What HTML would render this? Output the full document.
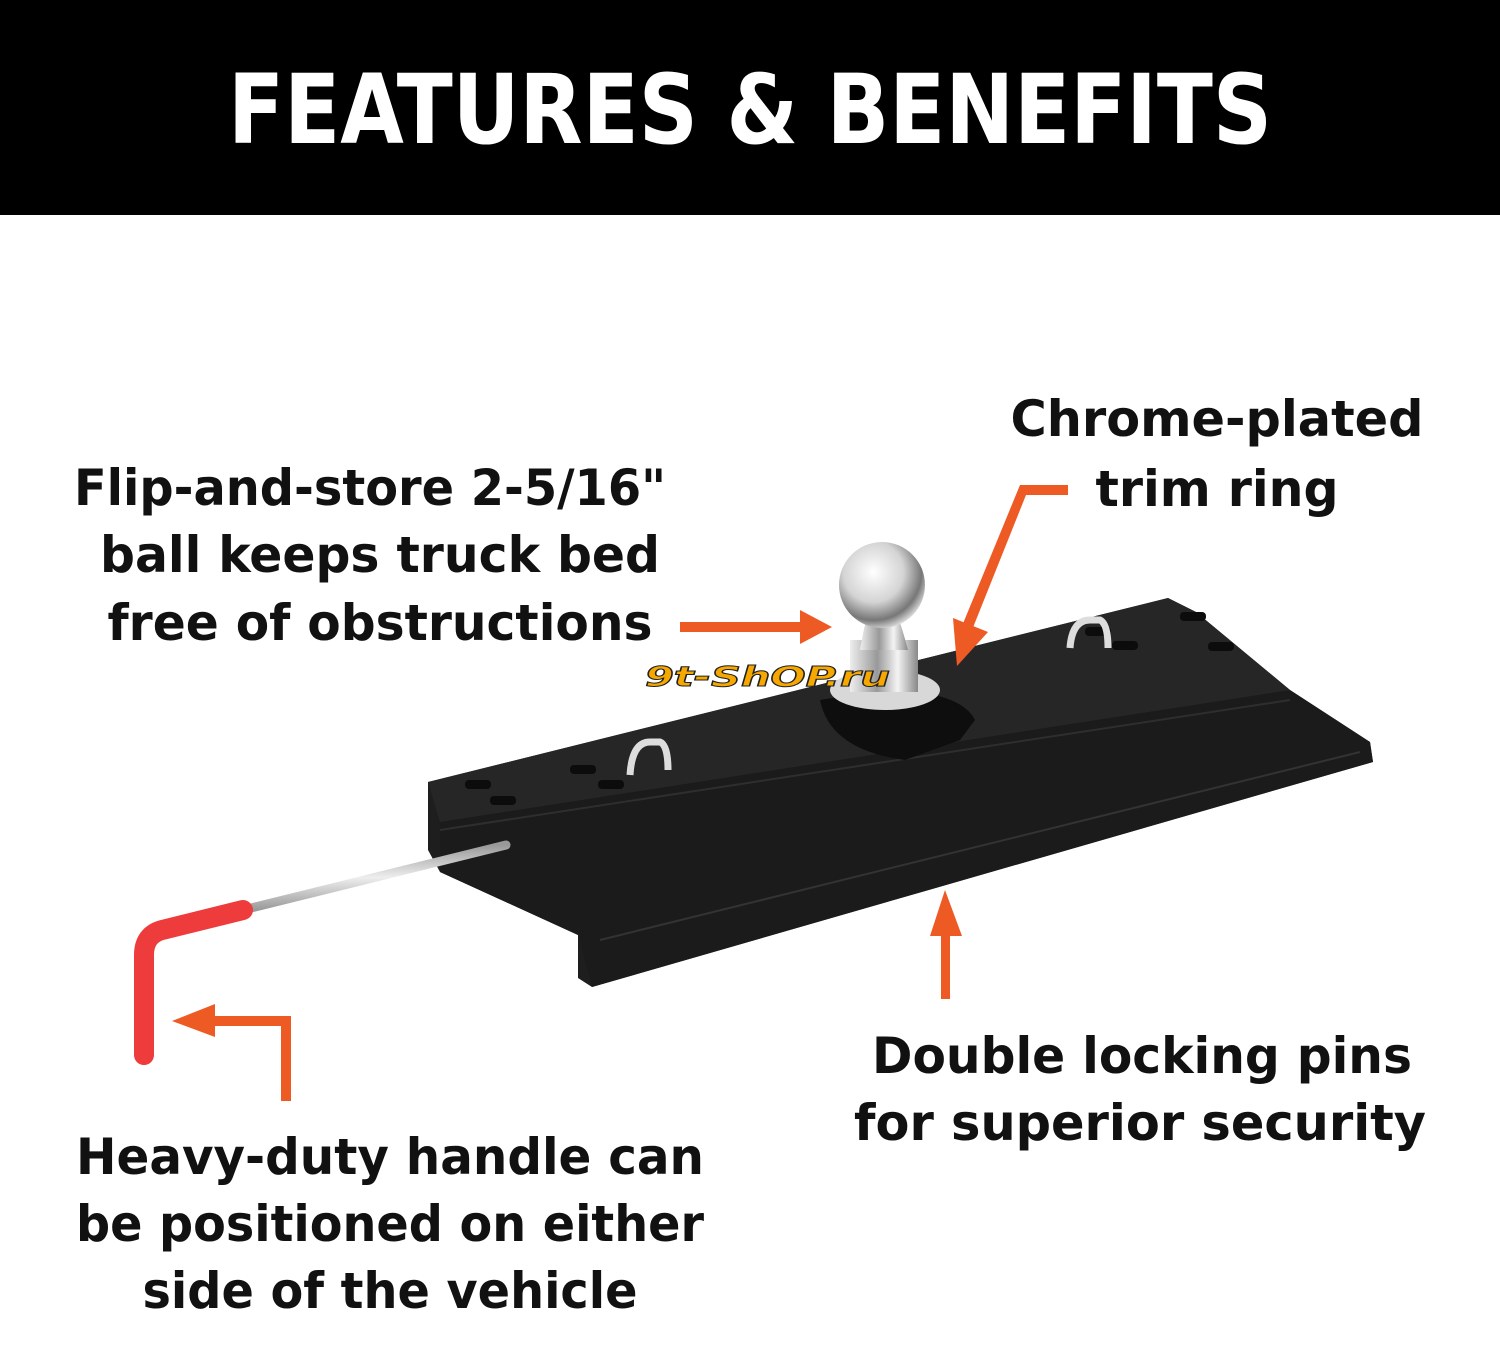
<!DOCTYPE html>
<html><head><meta charset="utf-8"><style>
html,body{margin:0;padding:0;background:#fff;}
svg{display:block;}
text{font-family:"DejaVu Sans Condensed","Liberation Sans",sans-serif;font-weight:bold;fill:#111;}
</style></head><body>
<svg width="1500" height="1350" viewBox="0 0 1500 1350" xmlns="http://www.w3.org/2000/svg">
<defs>
<radialGradient id="chrome" cx="40%" cy="35%" r="70%">
<stop offset="0" stop-color="#ffffff"/><stop offset="0.5" stop-color="#d4d4d4"/><stop offset="0.8" stop-color="#777"/><stop offset="1" stop-color="#eee"/>
</radialGradient>
<linearGradient id="neck" x1="0" x2="1"><stop offset="0" stop-color="#eee"/><stop offset="0.4" stop-color="#999"/><stop offset="0.7" stop-color="#f4f4f4"/><stop offset="1" stop-color="#888"/></linearGradient>
<linearGradient id="rod" x1="0" y1="0" x2="0" y2="1"><stop offset="0" stop-color="#999"/><stop offset="0.5" stop-color="#eee"/><stop offset="1" stop-color="#999"/></linearGradient>
</defs>
<rect x="0" y="0" width="1500" height="215" fill="#000"/>
<text x="750" y="143" text-anchor="middle" font-size="96" textLength="1044" lengthAdjust="spacingAndGlyphs" style="fill:#fff">FEATURES &amp; BENEFITS</text>

<!-- plate -->
<polygon points="428,782 1168,598 1196,612 1290,690 1370,742 1373,762 592,987 578,978 578,935 440,872 428,850" fill="#1e1e1e"/>
<polygon points="428,782 1168,598 1196,612 1290,690 578,880 440,822" fill="#262626"/>
<polygon points="440,822 1290,690 1370,742 1373,762 592,987 578,935 440,872" fill="#1b1b1b"/>
<line x1="600" y1="940" x2="1360" y2="752" stroke="#333" stroke-width="2"/>
<line x1="440" y1="830" x2="1290" y2="700" stroke="#2e2e2e" stroke-width="2"/>
<!-- slots -->
<g fill="#0c0c0c">
<rect x="465" y="780" width="26" height="9" rx="4"/><rect x="490" y="796" width="26" height="9" rx="4"/>
<rect x="570" y="765" width="26" height="9" rx="4"/><rect x="598" y="780" width="26" height="9" rx="4"/>
<rect x="1085" y="627" width="26" height="9" rx="4"/><rect x="1112" y="641" width="26" height="9" rx="4"/>
<rect x="1180" y="612" width="26" height="9" rx="4"/><rect x="1208" y="642" width="26" height="9" rx="4"/>
</g>
<path d="M630,775 Q632,742 650,742 L660,742 Q668,745 668,770" fill="none" stroke="#ddd" stroke-width="7"/>
<path d="M1070,648 Q1072,620 1090,620 L1100,620 Q1108,624 1108,648" fill="none" stroke="#ddd" stroke-width="7"/>
<!-- ball base -->
<path d="M820,700 Q830,750 905,760 L960,740 L975,720 Q960,690 880,690 Z" fill="#0e0e0e"/>
<ellipse cx="885" cy="690" rx="55" ry="20" fill="#d8d8d8"/>
<rect x="850" y="640" width="68" height="52" fill="url(#neck)"/>
<path d="M860,650 Q865,620 870,610 L895,610 Q900,620 908,650 Z" fill="url(#neck)"/>
<circle cx="882" cy="585" r="43" fill="url(#chrome)"/>
<!-- watermark -->
<text x="645" y="686" font-size="28" style="fill:#f6a800;font-style:italic;stroke:#222;stroke-width:1" textLength="245" lengthAdjust="spacingAndGlyphs">9t-ShOP.ru</text>
<!-- handle -->
<line x1="506" y1="845" x2="243" y2="910" stroke="url(#rod)" stroke-width="9" stroke-linecap="round"/>
<path d="M243,910 L162,930 Q144,935 144,955 L144,1055" fill="none" stroke="#ee3b3b" stroke-width="20" stroke-linecap="round"/>

<!-- arrows -->
<g fill="#ee5a24">
<rect x="680" y="622" width="125" height="10"/><polygon points="800,610 832,627 800,644"/>
<rect x="1020" y="485" width="48" height="10"/>
<polygon points="1020,485 1030,485 972,630 962,626"/>
<polygon points="953,618 988,632 957,666"/>
<rect x="941" y="930" width="9" height="69"/><polygon points="930,936 945,890 962,936"/>
<rect x="281" y="1016" width="10" height="85"/><rect x="210" y="1016" width="80" height="10"/><polygon points="215,1004 172,1021 215,1037"/>
</g>

<g font-size="50" text-anchor="middle">
<text x="370" y="505" textLength="592" lengthAdjust="spacingAndGlyphs">Flip-and-store 2-5/16"</text>
<text x="380" y="572" textLength="560" lengthAdjust="spacingAndGlyphs">ball keeps truck bed</text>
<text x="380" y="640" textLength="545" lengthAdjust="spacingAndGlyphs">free of obstructions</text>
<text x="1217" y="436" textLength="413" lengthAdjust="spacingAndGlyphs">Chrome-plated</text>
<text x="1217" y="506" textLength="243" lengthAdjust="spacingAndGlyphs">trim ring</text>
<text x="1142" y="1073" textLength="540" lengthAdjust="spacingAndGlyphs">Double locking pins</text>
<text x="1140" y="1140" textLength="572" lengthAdjust="spacingAndGlyphs">for superior security</text>
<text x="390" y="1174" textLength="628" lengthAdjust="spacingAndGlyphs">Heavy-duty handle can</text>
<text x="390" y="1241" textLength="628" lengthAdjust="spacingAndGlyphs">be positioned on either</text>
<text x="390" y="1308" textLength="495" lengthAdjust="spacingAndGlyphs">side of the vehicle</text>
</g>
</svg>
</body></html>
